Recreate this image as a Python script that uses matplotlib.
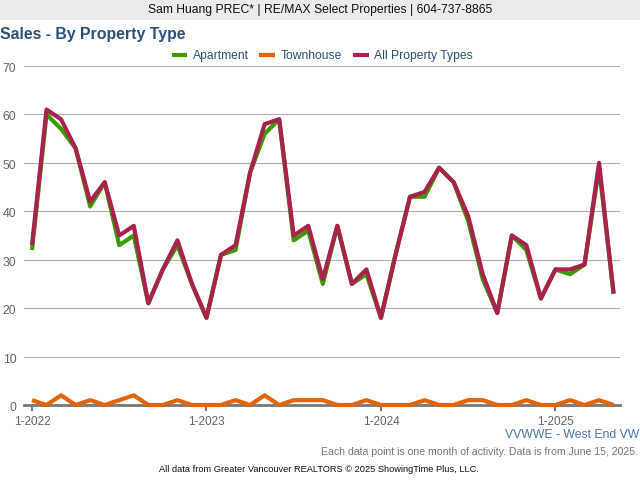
import matplotlib
matplotlib.use("Agg")
import matplotlib.pyplot as plt
from matplotlib.transforms import ScaledTranslation

plt.rcParams['font.family'] = ['Liberation Sans', 'DejaVu Sans']

apartment = [32, 60, 57, 53, 41, 46, 33, 35, 21, 28, 33, 25, 18, 31, 32, 48, 56, 59, 34, 36, 25,
             37, 25, 27, 18, 31, 43, 43, 49, 46, 38, 26, 19, 35, 32, 22, 28, 27, 29, 49, 23]
townhouse = [1, 0, 2, 0, 1, 0, 1, 2, 0, 0, 1, 0, 0, 0, 1, 0, 2, 0, 1, 1, 1,
             0, 0, 1, 0, 0, 0, 1, 0, 0, 1, 1, 0, 0, 1, 0, 0, 1, 0, 1, 0]
all_types = [33, 61, 59, 53, 42, 46, 35, 37, 21, 28, 34, 25, 18, 31, 33, 48, 58, 59, 35, 37, 26,
             37, 25, 28, 18, 31, 43, 44, 49, 46, 39, 27, 19, 35, 33, 22, 28, 28, 29, 50, 23]
months = list(range(len(all_types)))
year_ticks = [0, 12, 24, 36]
year_labels = ['1-2022', '1-2023', '1-2024', '1-2025']
y_ticks = [0, 10, 20, 30, 40, 50, 60, 70]

W, H = 640, 480
fig = plt.figure(figsize=(6.4, 4.8), dpi=100, facecolor='white')
ax = fig.add_axes([24 / W, 1 - 405 / H, (620 - 24) / W, (405 - 66) / H])

navy = '#2b5078'
for name in ('top', 'right', 'left'):
    ax.spines[name].set_visible(False)
ax.spines['bottom'].set_color('#777777')
ax.spines['bottom'].set_linewidth(2)

ax.set_xlim(-0.55, 40.44)
ax.set_ylim(0, 70)
ax.set_yticks(y_ticks)
ax.set_xticks(year_ticks)
ax.set_xticklabels(year_labels)
ax.grid(axis='y', color='#b0b0b0', linewidth=0.8)
ax.set_axisbelow(True)
ax.tick_params(axis='y', length=0, pad=5.5, labelsize=8.8, labelcolor='#666666')
ax.tick_params(axis='x', length=4, width=1.5, color='#777777', pad=4, labelsize=8.5, labelcolor='#666666')
shift = ScaledTranslation(0, -1.5 / 100, fig.dpi_scale_trans)
for lab in ax.get_yticklabels():
    lab.set_transform(lab.get_transform() + shift)

style = dict(linewidth=3.0, solid_joinstyle='round', solid_capstyle='butt', clip_on=False)
ax.plot(months, apartment, color='#3a9a00', label='Apartment', zorder=3, **style)
ax.plot(months, townhouse, color='#e26405', label='Townhouse', zorder=4, **style)
ax.plot(months, all_types, color='#a8224c', label='All Property Types', zorder=5, **style)

leg = ax.legend(loc='center', bbox_to_anchor=(322 / W, 1 - 56 / H), bbox_transform=fig.transFigure,
                ncols=3, frameon=False, fontsize=8.7, labelcolor=navy, handlelength=1.32,
                handletextpad=0.42, columnspacing=0.9, borderpad=0, borderaxespad=0)

fig.patches.append(plt.Rectangle((0, 1 - 20 / H), 1, 20 / H, transform=fig.transFigure,
                                 facecolor='#ebebeb', edgecolor='none'))
fig.text(320 / W, 1 - 10.5 / H, 'Sam Huang PREC* | RE/MAX Select Properties | 604-737-8865',
         ha='center', va='center', fontsize=8.7, color='#111111')
fig.text(0, 1 - 34.5 / H, 'Sales - By Property Type', ha='left', va='center',
         fontsize=11.4, fontweight='bold', color=navy)
fig.text(639.5 / W, 1 - 435.5 / H, 'VVWWE - West End VW', ha='right', va='center',
         fontsize=8.8, color='#4a76a8')
fig.text(638 / W, 1 - 452 / H, 'Each data point is one month of activity. Data is from June 15, 2025.',
         ha='right', va='center', fontsize=7.6, color='#777777')
fig.text(319 / W, 1 - 470 / H, 'All data from Greater Vancouver REALTORS © 2025 ShowingTime Plus, LLC.',
         ha='center', va='center', fontsize=6.7, color='#111111')

fig.savefig('out.png', dpi=100)
